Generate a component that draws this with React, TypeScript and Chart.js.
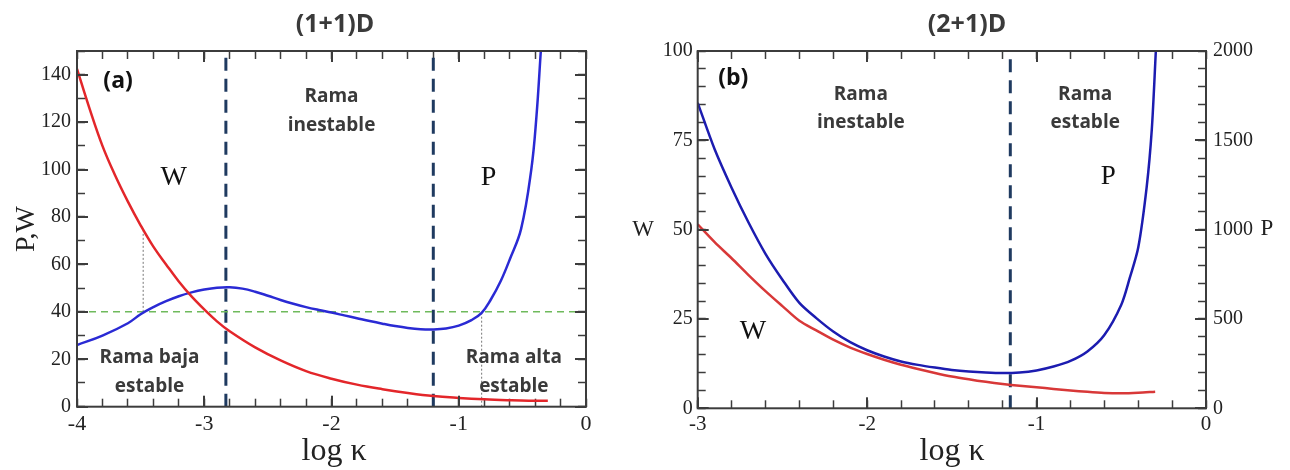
import React, { useEffect, useRef } from 'react';
import { Chart, registerables } from 'chart.js';

Chart.register(...registerables);

// ---------- Panel (a): (1+1)D ----------
const xA_W = [-4, -3.9, -3.8, -3.7, -3.6, -3.5, -3.4, -3.3, -3.2, -3.1, -3.0, -2.9, -2.8, -2.6, -2.4, -2.2, -2.0, -1.8, -1.6, -1.4, -1.2, -1.0, -0.8, -0.6, -0.45, -0.3];
const wA = [142.5, 125.5, 110, 97.5, 86.5, 76.5, 67.5, 60, 52.8, 46.5, 41, 36, 31.8, 25, 19.5, 15, 11.8, 9.3, 7.4, 5.8, 4.5, 3.7, 3.1, 2.7, 2.5, 2.5];
const xA_P = [-4, -3.8, -3.6, -3.5, -3.4, -3.3, -3.2, -3.1, -3.0, -2.9, -2.8, -2.7, -2.6, -2.5, -2.4, -2.3, -2.2, -2.1, -2.0, -1.9, -1.8, -1.7, -1.6, -1.5, -1.4, -1.3, -1.2, -1.1, -1.0, -0.9, -0.82, -0.75, -0.67, -0.6, -0.51, -0.43, -0.39, -0.355];
const pA = [26, 30, 35.2, 39, 42, 44.5, 46.6, 48.2, 49.4, 50.2, 50.4, 49.8, 48.5, 46.8, 45.0, 43.4, 42.0, 40.8, 39.7, 38.5, 37.3, 36.1, 35.0, 34.0, 33.2, 32.7, 32.6, 33.0, 34.2, 36.5, 39.6, 45, 53, 62, 75, 100, 122, 150];
const xTicksA = [-4, -3, -2, -1, 0];
const yTicksA = [0, 20, 40, 60, 80, 100, 120, 140];
const thresholdA = 40;
const unstableBoundsA = [-2.83, -1.2];
const dottedXA = [-3.48, -0.82];
const dottedLowA = [40, 0];
const dottedHighA = [74, 40];

// ---------- Panel (b): (2+1)D ----------
const xB_P = [-3, -2.9, -2.8, -2.7, -2.6, -2.5, -2.4, -2.3, -2.2, -2.1, -2.0, -1.9, -1.8, -1.7, -1.6, -1.5, -1.4, -1.3, -1.2, -1.1, -1.0, -0.9, -0.8, -0.7, -0.6, -0.5, -0.45, -0.4, -0.35, -0.32, -0.296];
const pB = [1710, 1450, 1235, 1040, 865, 720, 590, 505, 430, 370, 325, 290, 262, 243, 228, 215, 206, 200, 197, 200, 212, 234, 265, 318, 410, 580, 730, 900, 1240, 1560, 2000];
const xB_W = [-3, -2.9, -2.8, -2.7, -2.6, -2.5, -2.4, -2.3, -2.2, -2.1, -2.0, -1.9, -1.8, -1.7, -1.6, -1.5, -1.4, -1.3, -1.2, -1.1, -1.0, -0.9, -0.8, -0.7, -0.6, -0.5, -0.4, -0.3];
const wB = [51.5, 46.5, 42, 37.3, 32.8, 28.6, 24.5, 21.8, 19.2, 17.0, 15.2, 13.6, 12.2, 11.0, 9.9, 8.9, 8.1, 7.4, 6.8, 6.3, 5.9, 5.4, 5.0, 4.6, 4.3, 4.2, 4.35, 4.65];
const xTicksB = [-3, -2, -1, 0];
const wTicksB = [0, 25, 50, 75, 100];
const pTicksB = [0, 500, 1000, 1500, 2000];
const unstableBoundB = -1.155;

// ---------- styling ----------
const SERIF = "'Liberation Serif', 'DejaVu Serif', serif";
const SANS = "'Open Sans', 'Noto Sans', sans-serif";
const TEXT = '#3a3a3a';
const FRAME = '#3c3c3c';
const NAVY = '#1f3a60';
const TICK_IN = -8; // inward tick length for the library's own tick marks

const pts = (xs: number[], ys: number[]) => xs.map((x, i) => ({ x, y: ys[i] }));
const range = (a: number, b: number, s: number) => {
  const out: number[] = [];
  const n = Math.round((b - a) / s);
  for (let i = 0; i <= n; i++) out.push(Math.round((a + i * s) * 1000) / 1000);
  return out;
};

// overlay: frame, longer major ticks, and text annotations
const makeDecor = (tickSpecs: any[], texts: any[]) => ({
  id: 'decor',
  afterDraw(chart: any) {
    const ctx = chart.ctx;
    const a = chart.chartArea;
    ctx.save();
    ctx.setLineDash([]);
    ctx.strokeStyle = FRAME;
    ctx.lineWidth = 2;
    ctx.strokeRect(a.left, a.top, a.right - a.left, a.bottom - a.top);
    ctx.fillStyle = FRAME;
    for (let k = 0; k < tickSpecs.length; k++) {
      const t = tickSpecs[k];
      const sc = chart.scales[t.scale];
      for (let i = 0; i < t.major.length; i++) {
        const p = Math.round(sc.getPixelForValue(t.major[i]));
        const len = 11;
        if (t.bottom) ctx.fillRect(p - 1, a.bottom - len, 2, len);
        if (t.top) ctx.fillRect(p - 1, a.top, 2, len);
        if (t.left) ctx.fillRect(a.left, p - 1, len, 2);
        if (t.right) ctx.fillRect(a.right - len, p - 1, len, 2);
      }
    }
    for (let k = 0; k < texts.length; k++) {
      const t = texts[k];
      let x = t.x, y = t.y;
      if (t.data) {
        x = chart.scales.x.getPixelForValue(t.x);
        y = chart.scales[t.yScale || 'y'].getPixelForValue(t.y);
      }
      ctx.font = t.font;
      ctx.fillStyle = t.color || TEXT;
      ctx.textAlign = 'center';
      ctx.textBaseline = 'alphabetic';
      if (t.rot) {
        ctx.save();
        ctx.translate(x, y);
        ctx.rotate(t.rot);
        ctx.fillText(t.text, 0, 0);
        ctx.restore();
      } else {
        ctx.fillText(t.text, x, y);
      }
    }
    ctx.restore();
  },
});

const tickFont = (size: number) => ({ family: SERIF, size });
const labelIfMajor = (majors: number[]) => (v: any) => (majors.some((m) => Math.abs(m - Number(v)) < 1e-6) ? String(majors.find((m) => Math.abs(m - Number(v)) < 1e-6)) : '');

// a scale whose tick marks (all minor positions) point into the plot area
const tickScale = (opts: any) => {
  const { position, min, max, values, majors, size, fontSize, pad, showLabels } = opts;
  const horizontal = position === 'top' || position === 'bottom';
  return {
    type: 'linear',
    position,
    min,
    max,
    afterBuildTicks: (s: any) => { s.ticks = values.map((value: number) => ({ value })); },
    afterFit: (s: any) => { if (horizontal) s.height = size; else s.width = size; },
    grid: { display: true, drawOnChartArea: false, drawTicks: true, tickLength: TICK_IN, tickColor: FRAME, tickWidth: 1.5, color: FRAME },
    border: { display: false },
    ticks: {
      display: showLabels,
      font: tickFont(fontSize || 20),
      color: '#222',
      padding: (pad || 0) - TICK_IN,
      maxRotation: 0,
      autoSkip: false,
      callback: labelIfMajor(majors),
    },
  };
};

function makeA(canvas: HTMLCanvasElement) {
  const lbl = `bold 19px ${SANS}`;
  const minorX = range(-4, 0, 0.2);
  const minorY = range(0, 150, 10);
  const decor = makeDecor(
    [
      { scale: 'x', major: xTicksA, bottom: true, top: true },
      { scale: 'y', major: yTicksA, left: true, right: true },
    ],
    [
      { text: '(1+1)D', x: 335, y: 32, font: `bold 25px ${SANS}` },
      { text: 'log \u03ba', x: 334, y: 460, font: `32px ${SERIF}`, color: '#222' },
      { text: 'P,W', x: 34, y: 229, font: `28px ${SERIF}`, color: '#222', rot: -Math.PI / 2 },
      { data: true, text: '(a)', x: -3.677, y: 134.4, font: `bold 23px ${SANS}`, color: '#111' },
      { data: true, text: 'Rama', x: -2.0, y: 128.5, font: lbl },
      { data: true, text: 'inestable', x: -2.0, y: 116.3, font: lbl },
      { data: true, text: 'W', x: -3.24, y: 93.6, font: `28px ${SERIF}`, color: '#111' },
      { data: true, text: 'P', x: -0.766, y: 93.6, font: `28px ${SERIF}`, color: '#111' },
      { data: true, text: 'Rama baja', x: -3.43, y: 18.4, font: lbl },
      { data: true, text: 'estable', x: -3.43, y: 6.3, font: lbl },
      { data: true, text: 'Rama alta', x: -0.567, y: 18.4, font: lbl },
      { data: true, text: 'estable', x: -0.567, y: 6.3, font: lbl },
    ],
  );
  return new Chart(canvas, {
    type: 'line',
    data: {
      datasets: [
        { data: pts(xA_W, wA), borderColor: '#e3262a', borderWidth: 2.5, pointRadius: 0, tension: 0.4 },
        { data: pts(xA_P, pA), borderColor: '#2a2ad4', borderWidth: 2.5, pointRadius: 0, tension: 0.4 },
        { data: [{ x: xTicksA[0], y: thresholdA }, { x: xTicksA[xTicksA.length - 1], y: thresholdA }], borderColor: '#6fba5c', borderWidth: 1.5, borderDash: [7, 5], pointRadius: 0 },
        ...unstableBoundsA.map((b) => ({ data: [{ x: b, y: 0 }, { x: b, y: 150 }], borderColor: NAVY, borderWidth: 3, borderDash: [13, 8], pointRadius: 0 })),
        ...dottedXA.map((d, i) => ({ data: [{ x: d, y: dottedLowA[i] }, { x: d, y: dottedHighA[i] }], borderColor: '#777', borderWidth: 1, borderDash: [2, 2], pointRadius: 0 })),
      ] as any,
    },
    options: {
      animation: false,
      responsive: false,
      maintainAspectRatio: false,
      layout: { padding: { left: 0, right: 34, top: 51, bottom: 0 } },
      plugins: { legend: { display: false }, tooltip: { enabled: false } },
      scales: {
        x: tickScale({ position: 'bottom', min: -4, max: 0, values: minorX, majors: xTicksA, size: 63.3, fontSize: 22, pad: 4, showLabels: true }),
        xTop: tickScale({ position: 'top', min: -4, max: 0, values: minorX, majors: xTicksA, size: 0, showLabels: false }),
        y: tickScale({ position: 'left', min: 0, max: 150, values: minorY, majors: yTicksA, size: 77, fontSize: 20, pad: 6, showLabels: true }),
        yRight: tickScale({ position: 'right', min: 0, max: 150, values: minorY, majors: yTicksA, size: 0, showLabels: false }),
      },
    },
    plugins: [decor],
  } as any);
}

function makeB(canvas: HTMLCanvasElement) {
  const lbl = `bold 19px ${SANS}`;
  const minorX = range(-3, 0, 0.2);
  const decor = makeDecor(
    [
      { scale: 'x', major: xTicksB, bottom: true, top: true },
      { scale: 'y', major: wTicksB, left: true },
      { scale: 'y2', major: pTicksB, right: true },
    ],
    [
      { text: '(2+1)D', x: 347, y: 32, font: `bold 25px ${SANS}` },
      { text: 'log \u03ba', x: 332, y: 460, font: `32px ${SERIF}`, color: '#222' },
      { text: 'W', x: 23, y: 236, font: `23px ${SERIF}`, color: '#222' },
      { text: 'P', x: 647, y: 235, font: `23px ${SERIF}`, color: '#222' },
      { data: true, text: '(b)', x: -2.79, y: 90.6, font: `bold 23px ${SANS}`, color: '#111' },
      { data: true, text: 'Rama', x: -2.037, y: 86.4, font: lbl },
      { data: true, text: 'inestable', x: -2.037, y: 78.4, font: lbl },
      { data: true, text: 'Rama', x: -0.713, y: 86.4, font: lbl },
      { data: true, text: 'estable', x: -0.713, y: 78.4, font: lbl },
      { data: true, text: 'P', x: -0.577, y: 62.7, font: `27px ${SERIF}`, color: '#111' },
      { data: true, text: 'W', x: -2.674, y: 19.3, font: `28px ${SERIF}`, color: '#111' },
    ],
  );
  return new Chart(canvas, {
    type: 'line',
    data: {
      datasets: [
        { data: pts(xB_W, wB), borderColor: '#d83838', borderWidth: 2.5, pointRadius: 0, tension: 0.3, yAxisID: 'y' },
        { data: pts(xB_P, pB), borderColor: '#1c1cb0', borderWidth: 2.5, pointRadius: 0, tension: 0.3, yAxisID: 'y2' },
        { data: [{ x: unstableBoundB, y: 0 }, { x: unstableBoundB, y: 100 }], borderColor: NAVY, borderWidth: 3, borderDash: [13, 8], pointRadius: 0, yAxisID: 'y' },
      ] as any,
    },
    options: {
      animation: false,
      responsive: false,
      maintainAspectRatio: false,
      layout: { padding: { left: 0, right: 0, top: 51, bottom: 0 } },
      plugins: { legend: { display: false }, tooltip: { enabled: false } },
      scales: {
        x: tickScale({ position: 'bottom', min: -3, max: 0, values: minorX, majors: xTicksB, size: 61.7, fontSize: 21, pad: 4, showLabels: true }),
        xTop: tickScale({ position: 'top', min: -3, max: 0, values: minorX, majors: xTicksB, size: 0, showLabels: false }),
        y: tickScale({ position: 'left', min: 0, max: 100, values: range(0, 100, 5), majors: wTicksB, size: 77.7, fontSize: 20, pad: 5, showLabels: true }),
        y2: tickScale({ position: 'right', min: 0, max: 2000, values: range(0, 2000, 100), majors: pTicksB, size: 84, fontSize: 20, pad: 7, showLabels: true }),
      },
    },
    plugins: [decor],
  } as any);
}

export default function App() {
  const refA = useRef<HTMLCanvasElement>(null);
  const refB = useRef<HTMLCanvasElement>(null);
  useEffect(() => {
    const a = makeA(refA.current!);
    const b = makeB(refB.current!);
    return () => { a.destroy(); b.destroy(); };
  }, []);
  return (
    <div style={{ position: 'absolute', left: 0, top: 0, width: 1290, height: 470, background: '#fff', overflow: 'hidden' }}>
      <canvas ref={refA} width={620} height={470} style={{ position: 'absolute', left: 0, top: 0, width: 620, height: 470 }} />
      <canvas ref={refB} width={670} height={470} style={{ position: 'absolute', left: 620, top: 0, width: 670, height: 470 }} />
    </div>
  );
}
